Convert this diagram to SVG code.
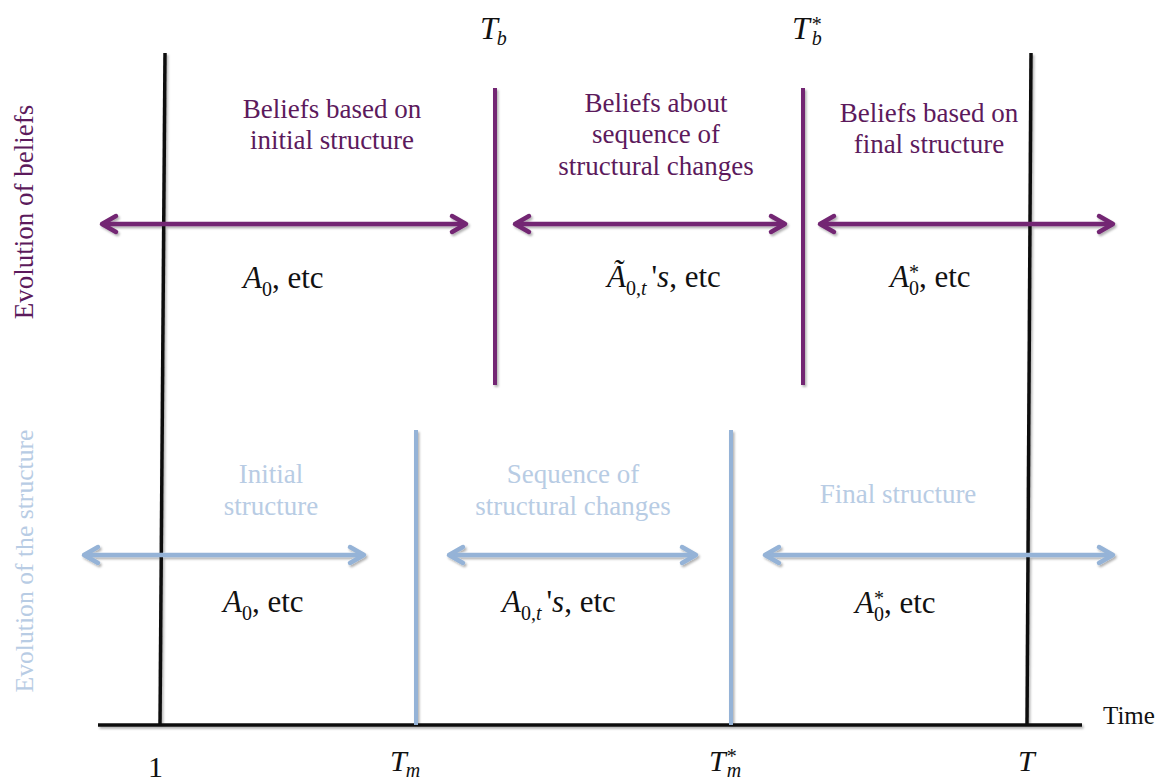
<svg xmlns="http://www.w3.org/2000/svg" width="1159" height="782" viewBox="0 0 1159 782">
<style>
.pt{fill:#5c1a5c;font-size:27px;text-anchor:middle}
.bt{fill:#b8cce4;font-size:27px;text-anchor:middle}
.math{fill:#111;font-size:31px}
.it{font-style:italic}
.sub{font-size:20px}
.pl{stroke:#732873;stroke-width:4;fill:none}
.bl{stroke:#95b3d7;stroke-width:4;fill:none}
.kl{stroke:#111;stroke-width:3.5;fill:none}
.pa{stroke:#732873;stroke-width:4.5;fill:none;marker-start:url(#mp);marker-end:url(#mp)}
.ba{stroke:#95b3d7;stroke-width:4.5;fill:none;marker-start:url(#mb);marker-end:url(#mb)}
</style>
<defs>
<filter id="sh" x="-5%" y="-5%" width="110%" height="110%">
<feDropShadow dx="1.5" dy="2" stdDeviation="1.2" flood-color="#000" flood-opacity="0.3"/>
</filter>
<marker id="mp" markerUnits="userSpaceOnUse" markerWidth="30" markerHeight="30" viewBox="-22 -15 30 30" refX="0" refY="0" orient="auto-start-reverse">
<path d="M-14,-8 L0,0 L-14,8" stroke="#732873" stroke-width="4.5" fill="none" stroke-linecap="round" stroke-linejoin="round"/>
</marker>
<marker id="mb" markerUnits="userSpaceOnUse" markerWidth="30" markerHeight="30" viewBox="-22 -15 30 30" refX="0" refY="0" orient="auto-start-reverse">
<path d="M-14,-8 L0,0 L-14,8" stroke="#95b3d7" stroke-width="4.5" fill="none" stroke-linecap="round" stroke-linejoin="round"/>
</marker>
</defs>
<rect width="1159" height="782" fill="#fff"/>

<g id="connectors" filter="url(#sh)">
<line class="kl" x1="98" y1="725" x2="1082" y2="725" stroke-width="4"/>
<line class="kl" x1="165" y1="53" x2="160" y2="725"/>
<line class="kl" x1="1031" y1="53" x2="1027" y2="725"/>
<line class="pl" x1="495" y1="88" x2="495" y2="385"/>
<line class="pl" x1="803" y1="88" x2="803" y2="385"/>
<line class="bl" x1="416" y1="430" x2="416" y2="725"/>
<line class="bl" x1="731" y1="430" x2="731" y2="725"/>
<line class="pa" x1="102" y1="224" x2="466" y2="224"/>
<line class="pa" x1="515" y1="224" x2="785" y2="224"/>
<line class="pa" x1="820" y1="224" x2="1113" y2="224"/>
<line class="ba" x1="84" y1="555" x2="364" y2="555"/>
<line class="ba" x1="449" y1="555" x2="696" y2="555"/>
<line class="ba" x1="765" y1="555" x2="1113" y2="555"/>
</g>

<g id="side-labels">
<text font-family="'Liberation Serif', serif" transform="translate(33,212) rotate(-90)" text-anchor="middle" font-size="27" fill="#5c1a5c">Evolution of beliefs</text>
<text font-family="'Liberation Serif', serif" transform="translate(33,561) rotate(-90)" text-anchor="middle" font-size="26" fill="#b8cce4" textLength="263" lengthAdjust="spacingAndGlyphs">Evolution of the structure</text>
</g>

<g id="belief-initial">
<text font-family="'Liberation Serif', serif" class="pt" x="332" y="118">Beliefs based on</text>
<text font-family="'Liberation Serif', serif" class="pt" x="332" y="149">initial structure</text>
<text font-family="'Liberation Serif', serif" class="math" x="243" y="288"><tspan class="it">A</tspan><tspan class="sub" dy="8">0</tspan><tspan dy="-8">, etc</tspan></text>
</g>

<g id="belief-sequence">
<text font-family="'Liberation Serif', serif" class="pt" x="656" y="112">Beliefs about</text>
<text font-family="'Liberation Serif', serif" class="pt" x="656" y="143">sequence of</text>
<text font-family="'Liberation Serif', serif" class="pt" x="656" y="175">structural changes</text>
<text font-family="'Liberation Serif', serif" class="math" x="607" y="287"><tspan class="it">Ã</tspan><tspan class="sub" dy="8">0,<tspan class="it">t</tspan></tspan><tspan dx="5" dy="-8">'</tspan><tspan class="it">s</tspan><tspan>, etc</tspan></text>
</g>

<g id="belief-final">
<text font-family="'Liberation Serif', serif" class="pt" x="929" y="122">Beliefs based on</text>
<text font-family="'Liberation Serif', serif" class="pt" x="929" y="153">final structure</text>
<text font-family="'Liberation Serif', serif" class="math" x="890" y="287"><tspan class="it">A</tspan><tspan class="sub" dy="8">0</tspan><tspan class="sub" dx="-10" dy="-16">*</tspan><tspan dy="8">, etc</tspan></text>
</g>

<g id="structure-initial">
<text font-family="'Liberation Serif', serif" class="bt" x="271" y="483">Initial</text>
<text font-family="'Liberation Serif', serif" class="bt" x="271" y="515">structure</text>
<text font-family="'Liberation Serif', serif" class="math" x="223" y="612"><tspan class="it">A</tspan><tspan class="sub" dy="8">0</tspan><tspan dy="-8">, etc</tspan></text>
</g>

<g id="structure-sequence">
<text font-family="'Liberation Serif', serif" class="bt" x="573" y="483">Sequence of</text>
<text font-family="'Liberation Serif', serif" class="bt" x="573" y="515">structural changes</text>
<text font-family="'Liberation Serif', serif" class="math" x="502" y="612"><tspan class="it">A</tspan><tspan class="sub" dy="8">0,<tspan class="it">t</tspan></tspan><tspan dx="5" dy="-8">'</tspan><tspan class="it">s</tspan><tspan>, etc</tspan></text>
</g>

<g id="structure-final">
<text font-family="'Liberation Serif', serif" class="bt" x="898" y="503">Final structure</text>
<text font-family="'Liberation Serif', serif" class="math" x="855" y="613"><tspan class="it">A</tspan><tspan class="sub" dy="8">0</tspan><tspan class="sub" dx="-10" dy="-16">*</tspan><tspan dy="8">, etc</tspan></text>
</g>

<g id="axis-labels" fill="#111">
<text font-family="'Liberation Serif', serif" x="480" y="39" font-size="32"><tspan class="it">T</tspan><tspan class="it sub" dx="-1" dy="6">b</tspan></text>
<text font-family="'Liberation Serif', serif" x="792" y="39" font-size="32"><tspan class="it">T</tspan><tspan class="sub" dx="2" dy="-8">*</tspan><tspan class="it sub" dx="-10" dy="14">b</tspan></text>
<text font-family="'Liberation Serif', serif" x="148" y="777" font-size="30">1</text>
<text font-family="'Liberation Serif', serif" x="390" y="771" font-size="30"><tspan class="it">T</tspan><tspan class="it sub" dx="-1" dy="6">m</tspan></text>
<text font-family="'Liberation Serif', serif" x="709" y="771" font-size="30"><tspan class="it">T</tspan><tspan class="sub" dx="1" dy="-8">*</tspan><tspan class="it sub" dx="-10" dy="14">m</tspan></text>
<text font-family="'Liberation Serif', serif" x="1018" y="771" font-size="30" class="it">T</text>
<text font-family="'Liberation Serif', serif" x="1103" y="724" font-size="25">Time</text>
</g>
</svg>
